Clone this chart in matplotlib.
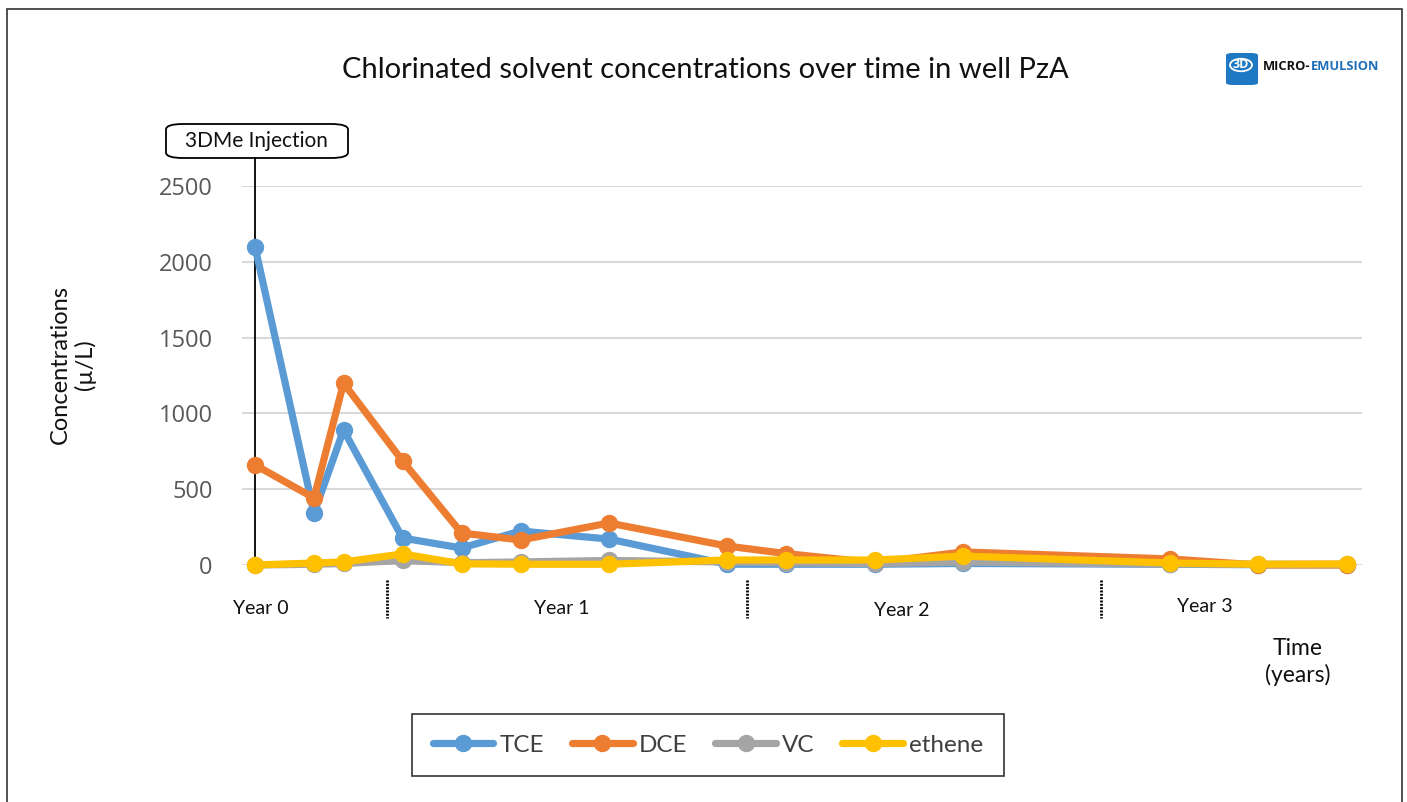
import matplotlib
matplotlib.use("Agg")
import matplotlib.pyplot as plt
from matplotlib.patches import Rectangle, FancyBboxPatch, Circle
from matplotlib.lines import Line2D

# ---- data ----
months = [0, 2, 3, 5, 7, 9, 12, 16, 18, 21, 24, 31, 34, 37]
tce = [2100, 343, 890, 178, 112, 224, 171, 5, 5, 5, 10, 5, 2, 2]
dce = [660, 442, 1200, 686, 211, 165, 277, 125, 75, 15, 86, 40, 0, 0]
vc = [0, 5, 10, 30, 15, 20, 30, 20, 15, 10, 20, 5, 5, 5]
ethene = [0, 13, 20, 73, 8, 5, 5, 33, 33, 33, 59, 13, 5, 7]
series_names = ["TCE", "DCE", "VC", "ethene"]
series_colors = ["#5B9BD5", "#ED7D31", "#A5A5A5", "#FFC000"]
year_labels = ["Year 0", "Year 1", "Year 2", "Year 3"]
y_ticks = [0, 500, 1000, 1500, 2000, 2500]

W, H = 1407, 802
fig = plt.figure(figsize=(W / 100, H / 100), dpi=100)


def fx(x):
    return x / W


def fy(y):
    return 1 - y / H


# axes: x pixels 242..1362, y pixels 186..565
ax = fig.add_axes([fx(242), fy(565), fx(1362) - fx(242), fy(186) - fy(565)])
ax.set_xlim(-0.44, 37.51)
ax.set_ylim(0, 2500)
for s in ax.spines.values():
    s.set_visible(False)
ax.set_yticks(y_ticks)
ax.set_yticklabels([str(v) for v in y_ticks], fontsize=17, color="#595959",
                   family=["Open Sans", "DejaVu Sans"])
ax.tick_params(axis="y", length=0, pad=21)
ax.set_xticks([])
ax.grid(axis="y", color="#D9D9D9", lw=1.5)
ax.set_axisbelow(True)

all_series = [tce, dce, vc, ethene]
handles = []
for vals, name, col in zip(all_series, series_names, series_colors):
    h, = ax.plot(months, vals, color=col, lw=5.2, marker="o", ms=11.5,
                 solid_capstyle="round", solid_joinstyle="round",
                 clip_on=False, label=name, zorder=3)
    handles.append(h)

# injection marker line and callout
ax.plot([0, 0], [0, (565 - 158) / 379 * 2500], color="black", lw=1.3,
        clip_on=False, zorder=2)
fig.text(fx(256), fy(141), "3DMe Injection", ha="center", va="center",
         fontsize=15, family=["Lato", "DejaVu Sans"], color="#111111")
fig.add_artist(FancyBboxPatch((fx(166), fy(158)), fx(348) - fx(166), fy(124) - fy(158),
                              boxstyle="round,pad=0,rounding_size=0.012",
                              transform=fig.transFigure, fill=False,
                              ec="black", lw=1.3, mutation_aspect=H / W))

# year dividers (dotted) and labels
for xp in [387, 747, 1101]:
    fig.add_artist(Line2D([fx(xp), fx(xp)], [fy(580), fy(618)], color="black",
                          lw=2, ls=(0, (0.7, 0.5)), transform=fig.transFigure))
for lab, xp, yp in zip(year_labels, [261, 562, 902, 1205], [609, 609, 611, 607]):
    fig.text(fx(xp), fy(yp), lab, ha="center", va="center", fontsize=14,
             family=["Lato", "DejaVu Sans"], color="#111111")

fig.text(fx(1298), fy(662), "Time\n(years)", ha="center", va="center", fontsize=16.5,
         family=["Lato", "DejaVu Sans"], color="#111111", linespacing=1.25)
fig.text(fx(73), fy(365), "Concentrations\n(µ/L)", ha="center", va="center", fontsize=17,
         rotation=90, family=["Lato", "DejaVu Sans"], color="#111111", linespacing=1.15)

# title
fig.text(fx(705), fy(70), "Chlorinated solvent concentrations over time in well PzA",
         ha="center", va="center", fontsize=21, family=["Lato", "DejaVu Sans"],
         color="#111111")

# logo
fig.add_artist(FancyBboxPatch((fx(1226), fy(85)), fx(1258) - fx(1226), fy(53) - fy(85),
                              boxstyle="round,pad=0,rounding_size=0.005",
                              transform=fig.transFigure, fc="#1E78C2", ec="none",
                              mutation_aspect=H / W))
fig.add_artist(Circle((fx(1241), fy(65)), radius=fx(11), transform=fig.transFigure,
                      fill=False, ec="white", lw=1.3))
fig.text(fx(1241), fy(65), "3D", ha="center", va="center", fontsize=9, weight="bold",
         color="white", family=["Open Sans", "DejaVu Sans"])
t1 = fig.text(fx(1263), fy(66), "MICRO-", ha="left", va="center", fontsize=9.3,
              weight="bold", color="#111111", family=["Open Sans", "DejaVu Sans"])
renderer = fig.canvas.get_renderer()
bb = t1.get_window_extent(renderer=renderer)
fig.text(bb.x1 / W, fy(66), "EMULSION", ha="left", va="center", fontsize=9.3,
         weight="bold", color="#1E6FB8", family=["Open Sans", "DejaVu Sans"])

# legend
leg = fig.legend(handles=handles, labels=series_names, loc="center",
                 bbox_to_anchor=(fx(708), fy(745)), ncol=4,
                 frameon=True, fancybox=False, edgecolor="black",
                 handlelength=2.5, columnspacing=1.15, handletextpad=0.25,
                 borderpad=0.85, prop={"family": ["Lato", "DejaVu Sans"], "size": 17.5})
leg.get_frame().set_linewidth(1.2)
for txt in leg.get_texts():
    txt.set_color("#404040")

# outer border
fig.add_artist(Rectangle((fx(7), fy(812)), fx(1402) - fx(7), fy(9) - fy(812),
                         transform=fig.transFigure, fill=False, ec="#333333", lw=1.2))

fig.savefig("out.png", dpi=100, facecolor="white")
